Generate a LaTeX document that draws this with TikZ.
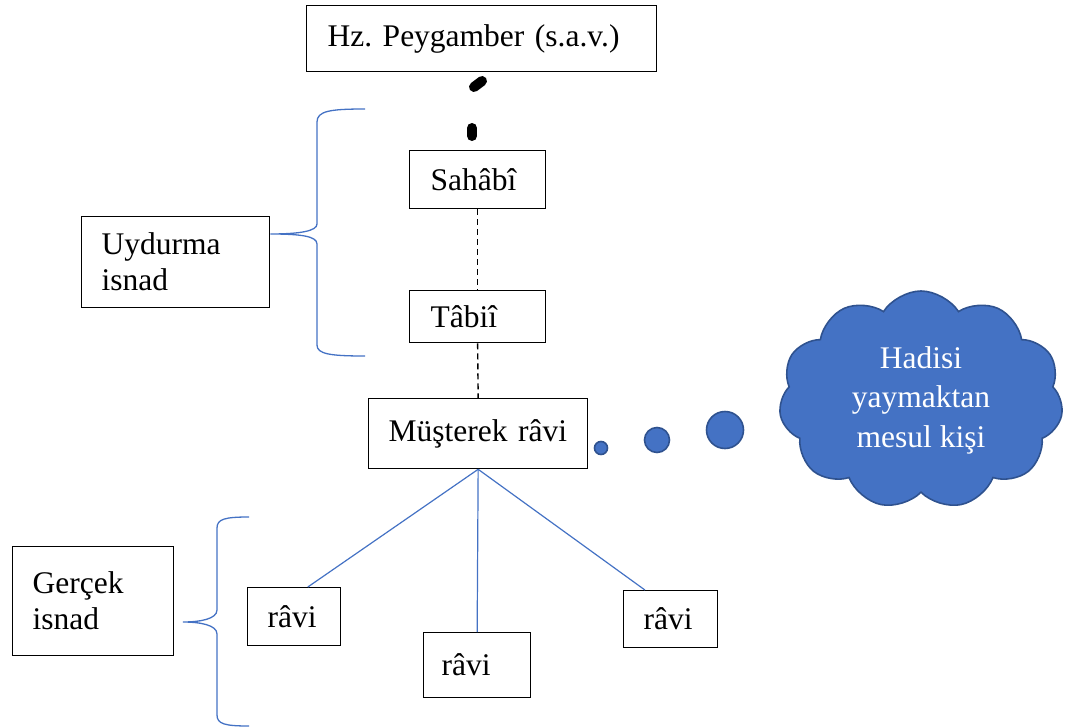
\documentclass[tikz,border=0pt]{standalone}
\usepackage{fontspec}
\setmainfont{Liberation Serif}
\usetikzlibrary{shapes.symbols,calc}
\definecolor{offblue}{HTML}{4472C4}
\definecolor{offdark}{HTML}{2F528F}
\tikzset{
  box/.style={draw, line width=1.3pt, inner ysep=0pt, anchor=north west, align=left, font=\fontsize{31.5}{36}\selectfont\frenchspacing},
  blueline/.style={draw=offblue, line width=1.2pt},
  brace/.style={draw=offblue, line width=1.3pt},
  dashline/.style={draw=black, line width=1.4pt, dash pattern=on 6pt off 4pt},
  blob/.style={draw=black, line width=10pt, line cap=round},
  bubble/.style={circle, fill=offblue, draw=offdark, line width=1.6pt, inner sep=0pt},
}
\begin{document}
\begin{tikzpicture}[x=1pt,y=-1pt]
\useasboundingbox (0,0) rectangle (1071,728);
% boxes
\node[box, text width=308pt, inner xsep=21pt, minimum height=66pt] (pey) at (306,5) {Hz. Peygamber (s.a.v.)};
\node[box, text width=94pt, inner xsep=21pt, minimum height=58pt] (sah) at (409,150) {Sahâbî};
\node[box, text width=94pt, inner xsep=21pt, minimum height=52pt] (tab) at (409,290) {Tâbiî};
\node[box, text width=179pt, inner xsep=20pt, minimum height=70pt] (mus) at (368,398) {Müşterek râvi};
\node[box, text width=148pt, inner xsep=20pt, minimum height=91pt] (uyd) at (81,216) {Uydurma\\isnad};
\node[box, text width=121pt, inner xsep=20pt, minimum height=109pt] (ger) at (12,546) {Gerçek\\isnad};
\node[box, text width=53pt, inner xsep=20pt, minimum height=58pt] (r1) at (247,587) {râvi};
\node[box, text width=71pt, inner xsep=18pt, minimum height=65pt] (r2) at (423,632) {râvi};
\node[box, text width=54pt, inner xsep=20pt, minimum height=57pt] (r3) at (623,590) {râvi};
% blobs under Peygamber
\draw[blob] (474,87) -- (482,81);
\draw[blob] (472,128) -- (472,136);
% dashed connectors
\draw[dashline] (sah.south) -- (tab.north);
\draw[dashline] (tab.south) -- (mus.north);
% blue lines to ravi
\draw[blueline] (mus.south) -- ($(r1.north west)!0.645!(r1.north east)$);
\draw[blueline] (mus.south) -- (r2.north);
\draw[blueline] (mus.south) -- ($(r3.north west)!0.23!(r3.north east)$);
% braces
\coordinate (ubt) at (365,109);
\coordinate (ubb) at (365,356);
\coordinate (ubtip) at ($(uyd.north east)+(0,18)$);
\draw[brace] (ubt) .. controls (330,109) and (317,111) .. (317,122) -- (317,224)
  .. controls (317,231) and (300,234) .. (ubtip)
  .. controls (300,234) and (317,236) .. (317,244) -- (317,345)
  .. controls (317,354) and (330,356) .. (ubb);
\coordinate (lbt) at (249,517);
\coordinate (lbb) at (249,726);
\coordinate (lbtip) at (183,622);
\draw[brace] (lbt) .. controls (225,517) and (217,519) .. (217,528) -- (217,610)
  .. controls (217,619) and (200,622) .. (lbtip)
  .. controls (200,622) and (217,625) .. (217,634) -- (217,715)
  .. controls (217,724) and (225,726) .. (lbb);
% thought bubbles
\node[bubble, minimum size=13pt] (b1) at (601,448) {};
\node[bubble, minimum size=25pt] (b2) at (657,440) {};
\node[bubble, minimum size=37pt] (b3) at (725,430) {};
\node[cloud, cloud puffs=11, cloud puff arc=115, aspect=1.3, fill=offblue, draw=offdark, line width=1.6pt,
  minimum width=284pt, minimum height=218pt, inner sep=0pt, text=white, align=center,
  font=\fontsize{31.5}{39.5}\selectfont] (cl) at (921,400) {Hadisi\\yaymaktan\\mesul kişi};
\end{tikzpicture}
\end{document}
